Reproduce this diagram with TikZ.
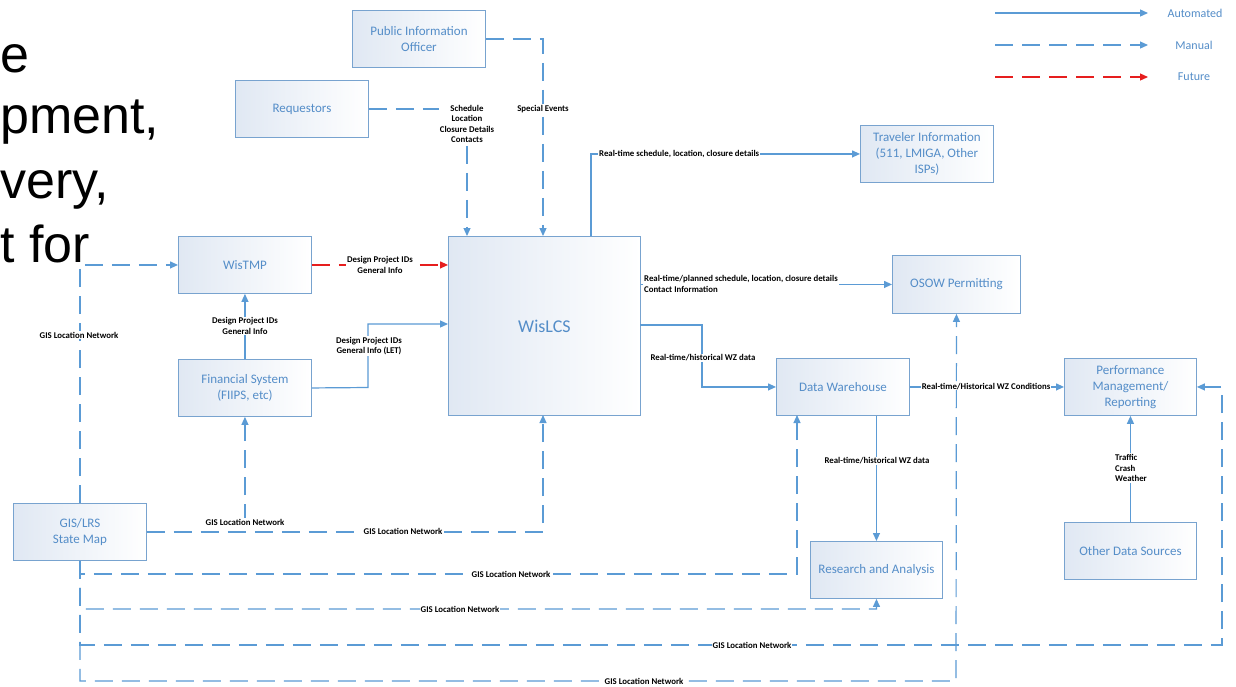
\documentclass[tikz,border=0pt]{standalone}
\usepackage{fontspec}
\setmainfont{Carlito}
\newfontfamily\arialfont{Liberation Sans}
\usetikzlibrary{arrows.meta}
\definecolor{ln}{RGB}{91,155,213}
\definecolor{bx}{RGB}{120,163,207}
\definecolor{bt}{RGB}{84,141,200}
\definecolor{futc}{RGB}{230,30,30}
\definecolor{bxfill}{RGB}{224,232,243}
\begin{document}
\begin{tikzpicture}[x=1pt,y=-1pt,
 box/.style={draw=bx, line width=0.9pt, left color=bxfill, right color=white, text=bt,
   font=\fontsize{13}{16}\selectfont, align=center, minimum width=133pt, minimum height=57pt,
   inner sep=2pt, anchor=north west},
 autoline/.style={draw=ln, line width=1.2pt, -{Triangle[length=8pt,width=7pt]}},
 manline/.style={autoline, dash pattern=on 18pt off 9pt},
 futline/.style={draw=futc, line width=1.2pt, dash pattern=on 18pt off 9pt, -{Triangle[length=8pt,width=7pt]}},
 lbl/.style={font=\fontsize{8.8}{10.5}\selectfont\bfseries, fill=white, inner sep=1pt, align=center, text=black},
 legendtxt/.style={font=\fontsize{12}{14}\selectfont, text=bt},
 bigtxt/.style={font=\arialfont\fontsize{52}{60}\selectfont, inner sep=0pt, anchor=base west, text=black},
]
\path[use as bounding box] (0,0) rectangle (1236,686);
\clip (0,0) rectangle (1236,686);
\fill[white] (0,0) rectangle (1236,686);

% slide text fragment
\node[bigtxt] (t1) at (0,72) {e};
\node[bigtxt] (t2) at (0,133) {pment,};
\node[bigtxt] (t3) at (0,198) {very,};
\node[bigtxt] (t4) at (0,262) {t for};

% boxes
\node[box] (pio) at (352,10) {Public Information\\Officer};
\node[box] (req) at (235,80) {Requestors};
\node[box] (tmp) at (178,236) {WisTMP};
\node[box] (fin) at (178,359) {Financial System\\(FIIPS, etc)};
\node[box, minimum width=192pt, minimum height=179pt, font=\fontsize{18}{20}\selectfont] (lcs) at (448,236) {WisLCS};
\node[box] (trav) at (860,125) {Traveler Information\\(511, LMIGA, Other\\ISPs)};
\node[box, minimum width=128pt, minimum height=58pt] (osow) at (892,255) {OSOW Permitting};
\node[box] (dw) at (776,358) {Data Warehouse};
\node[box, minimum width=132pt] (perf) at (1064,358) {Performance\\Management/\\Reporting};
\node[box, minimum width=132pt] (ra) at (810,541) {Research and Analysis};
\node[box, minimum width=132pt] (ods) at (1064,522) {Other Data Sources};
\node[box] (gis) at (13,503) {GIS/LRS\\State Map};

% attachment points
\coordinate (lcsReq) at (467,236);
\coordinate (lcsPio) at (543,236);
\coordinate (lcsTrav) at (591,236);
\coordinate (lcsDW) at (640,325);
\coordinate (lcsFin) at (448,324);
\coordinate (lcsGis) at (543,415);
\coordinate (dwGis) at (797,415);

% top inputs
\draw[manline] (req.east) -| (lcsReq);
\node[lbl] (lreq) at (467,124) {Schedule\\Location\\Closure Details\\Contacts};
\draw[manline] (pio.east) -| (lcsPio);
\node[lbl] (lpio) at (543,109) {Special Events};

% outputs
\draw[autoline] (lcsTrav) |- (trav.west);
\node[lbl, anchor=west] (ltrav) at (598,153.5) {Real-time schedule, location, closure details};
\draw[autoline] (lcs.east |- osow.west) -- (osow.west);
\node[lbl, anchor=west, align=left] (losow) at (643,284) {Real-time/planned schedule, location, closure details\\Contact Information};
\draw[autoline] (lcsDW) -- (702,325) |- (dw.west);
\node[lbl] (ldw) at (703,358) {Real-time/historical WZ data};

% WisTMP / Financial
\draw[futline] (tmp.east) -- (lcs.west |- tmp.east);
\node[lbl] (ltmp) at (380,265) {Design Project IDs\\General Info};
\draw[autoline] (fin.north) -- (tmp.south);
\node[lbl] (lfin) at (245,326) {Design Project IDs\\General Info};
\draw[autoline] (fin.east) -- (368,387.5) |- (lcsFin);
\node[lbl] (lfin2) at (369,346) {Design Project IDs\\General Info (LET)};

% data warehouse
\draw[autoline] (dw.east) -- (perf.west);
\node[lbl] (lperf) at (986,386.5) {Real-time/Historical WZ Conditions};
\draw[autoline] (ra.north |- dw.south) -- (ra.north);
\node[lbl] (lra) at (877,461) {Real-time/historical WZ data};
\draw[autoline] (ods.north) -- (perf.south);
\node[lbl, align=left] (lods) at (1131,468) {Traffic\\Crash\\Weather};

% GIS network
\draw[manline] (gis.north) |- (tmp.west);
\node[lbl] (lg1) at (79,335) {GIS Location Network};
\draw[manline] (gis.east) -| (lcsGis);
\node[lbl] (lg2) at (403,531.5) {GIS Location Network};
\draw[manline] (gis.east) -| (fin.south);
\node[lbl] (lg3) at (245,522) {GIS Location Network};
\draw[manline] (gis.south) |- (797,574) -- (dwGis);
\node[lbl] (lg4) at (511,574) {GIS Location Network};
\draw[manline] (gis.south) |- (876.5,609) -- (ra.south);
\node[lbl] (lg5) at (460,609) {GIS Location Network};
\draw[manline] (gis.south) |- (1222,645) |- (perf.east);
\node[lbl] (lg6) at (752,645) {GIS Location Network};
\draw[manline] (gis.south) |- (956,681) -- (osow.south);
\node[lbl] (lg7) at (644,681) {GIS Location Network};

% legend
\coordinate (la1) at (995,13); \coordinate (la2) at (1148,13);
\coordinate (lb1) at (995,45); \coordinate (lb2) at (1148,45);
\coordinate (lc1) at (995,77); \coordinate (lc2) at (1148,77);
\draw[autoline] (la1) -- (la2);
\draw[manline] (lb1) -- (lb2);
\draw[futline] (lc1) -- (lc2);
\node[legendtxt] (leg1) at (1195,13) {Automated};
\node[legendtxt] (leg2) at (1194,45) {Manual};
\node[legendtxt] (leg3) at (1194,77) {Future};
\end{tikzpicture}
\end{document}
